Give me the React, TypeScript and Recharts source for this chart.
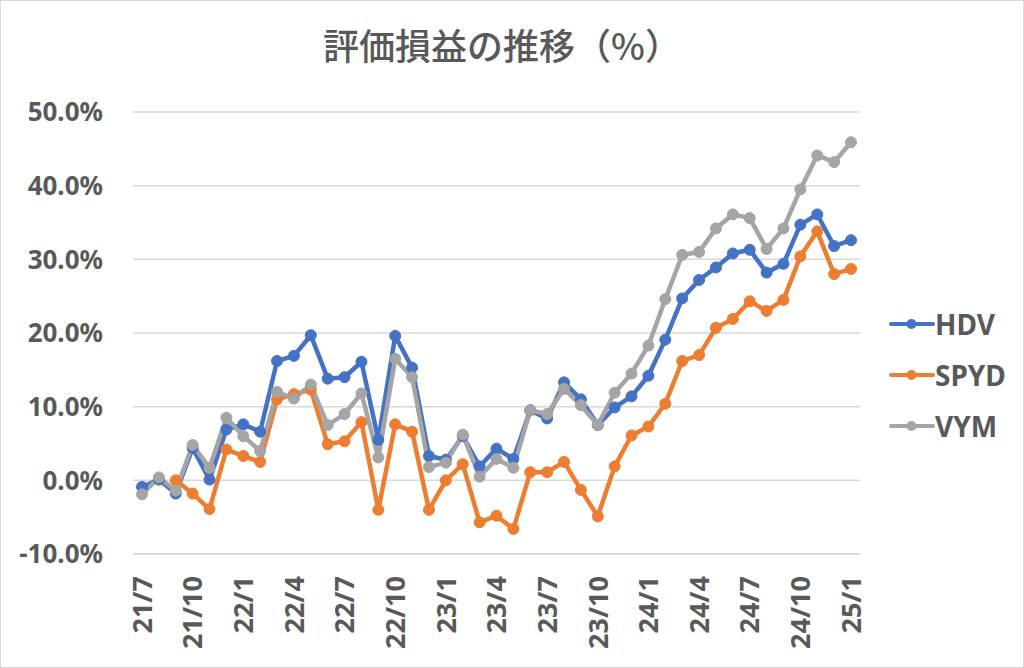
import { CartesianGrid, Line, LineChart, XAxis, YAxis } from 'recharts'

const months = [
  '21/7', '21/8', '21/9', '21/10', '21/11', '21/12',
  '22/1', '22/2', '22/3', '22/4', '22/5', '22/6', '22/7', '22/8', '22/9', '22/10', '22/11', '22/12',
  '23/1', '23/2', '23/3', '23/4', '23/5', '23/6', '23/7', '23/8', '23/9', '23/10', '23/11', '23/12',
  '24/1', '24/2', '24/3', '24/4', '24/5', '24/6', '24/7', '24/8', '24/9', '24/10', '24/11', '24/12',
  '25/1',
]

const hdv = [
  -0.9, 0.1, -1.8, 4.4, 0.1, 6.9,
  7.6, 6.6, 16.2, 16.9, 19.7, 13.8, 14.0, 16.1, 5.5, 19.6, 15.3, 3.3,
  2.8, 6.0, 1.9, 4.3, 2.9, 9.5, 8.4, 13.3, 11.0, 7.5, 9.9, 11.4,
  14.2, 19.1, 24.7, 27.2, 28.9, 30.8, 31.3, 28.2, 29.4, 34.7, 36.1, 31.8,
  32.6,
]

const spyd: (number | null)[] = [
  null, null, 0.0, -1.8, -3.9, 4.2,
  3.3, 2.5, 11.0, 11.7, 12.3, 4.9, 5.3, 7.9, -4.0, 7.6, 6.6, -4.0,
  0.0, 2.2, -5.7, -4.8, -6.6, 1.1, 1.1, 2.5, -1.3, -4.9, 1.9, 6.1,
  7.3, 10.4, 16.2, 17.0, 20.7, 21.9, 24.3, 23.0, 24.5, 30.4, 33.8, 28.0,
  28.7,
]

const vym = [
  -1.9, 0.4, -1.4, 4.8, 1.7, 8.5,
  6.0, 4.0, 12.0, 11.1, 13.0, 7.5, 9.0, 11.8, 3.1, 16.5, 14.0, 1.8,
  2.4, 6.2, 0.5, 2.9, 1.7, 9.5, 9.0, 12.4, 10.2, 7.5, 11.9, 14.5,
  18.3, 24.6, 30.6, 31.0, 34.2, 36.1, 35.6, 31.4, 34.2, 39.5, 44.1, 43.2,
  45.9,
]

const yTicks = [-10, 0, 10, 20, 30, 40, 50]

const series = [
  { key: 'HDV', color: '#4472C4' },
  { key: 'SPYD', color: '#ED7D31' },
  { key: 'VYM', color: '#A5A5A5' },
]

const data = months.map((m, i) => ({
  month: m,
  HDV: hdv[i],
  SPYD: spyd[i],
  VYM: vym[i],
}))

const FONT = "'Noto Sans', 'Noto Sans CJK JP', sans-serif"
const TEXT = '#595959'

function MonthTick(props: any) {
  const { x, y, payload } = props
  return (
    <text
      x={x}
      y={y}
      transform={`rotate(-90, ${x}, ${y})`}
      textAnchor="end"
      dy="0.36em"
      fill={TEXT}
      fontSize={27}
      fontWeight={700}
      fontFamily={FONT}
    >
      {payload.value}
    </text>
  )
}

function LegendBox() {
  return (
    <div style={{ position: 'absolute', left: 888, top: 297, fontFamily: FONT }}>
      {series.map((s) => (
        <div key={s.key} style={{ display: 'flex', alignItems: 'center', height: 51 }}>
          <svg width={46} height={14}>
            <line x1={2} y1={7} x2={44} y2={7} stroke={s.color} strokeWidth={4} strokeLinecap="round" />
            <circle cx={22.5} cy={7} r={5} fill={s.color} />
          </svg>
          <span style={{ color: TEXT, fontSize: 28, fontWeight: 700, marginLeft: 0 }}>{s.key}</span>
        </div>
      ))}
    </div>
  )
}

export default function App() {
  return (
    <div
      style={{
        position: 'fixed',
        left: 0,
        top: 0,
        width: 1024,
        height: 668,
        background: '#fff',
        border: '1px solid #d9d9d9',
        boxSizing: 'border-box',
        fontFamily: FONT,
      }}
    >
      <div
        style={{
          position: 'absolute',
          left: 0,
          top: 17,
          width: 1002,
          textAlign: 'center',
          fontSize: 36,
          fontWeight: 500,
          color: TEXT,
          fontFamily: "'Noto Sans CJK JP', sans-serif",
        }}
      >
        評価損益の推移（%）
      </div>
      <div style={{ position: 'absolute', left: -1, top: -1 }}>
        <LineChart
          width={1024}
          height={668}
          data={data}
          margin={{ top: 112, right: 164, bottom: 0, left: 33 }}
        >
          <CartesianGrid vertical={false} stroke="#d9d9d9" strokeWidth={1.5} />
          <XAxis
            dataKey="month"
            interval={2}
            height={114}
            padding={{ left: 9, right: 9 }}
            axisLine={{ stroke: '#d9d9d9', strokeWidth: 1.5 }}
            tickLine={false}
            tickSize={0}
            tickMargin={22}
            tick={<MonthTick />}
          />
          <YAxis
            domain={[-10, 50]}
            ticks={yTicks}
            width={100}
            axisLine={false}
            tickLine={false}
            tickSize={0}
            tickMargin={30}
            tickFormatter={(v: number) => `${v.toFixed(1)}%`}
            tick={{ fill: TEXT, fontSize: 26, fontWeight: 700, fontFamily: FONT }}
          />
          {series.map((s) => (
            <Line
              key={s.key}
              dataKey={s.key}
              stroke={s.color}
              strokeWidth={4.5}
              dot={{ r: 5.5, fill: s.color, stroke: s.color, strokeWidth: 1 }}
              activeDot={false}
              isAnimationActive={false}
            />
          ))}
        </LineChart>
      </div>
      <LegendBox />
    </div>
  )
}
